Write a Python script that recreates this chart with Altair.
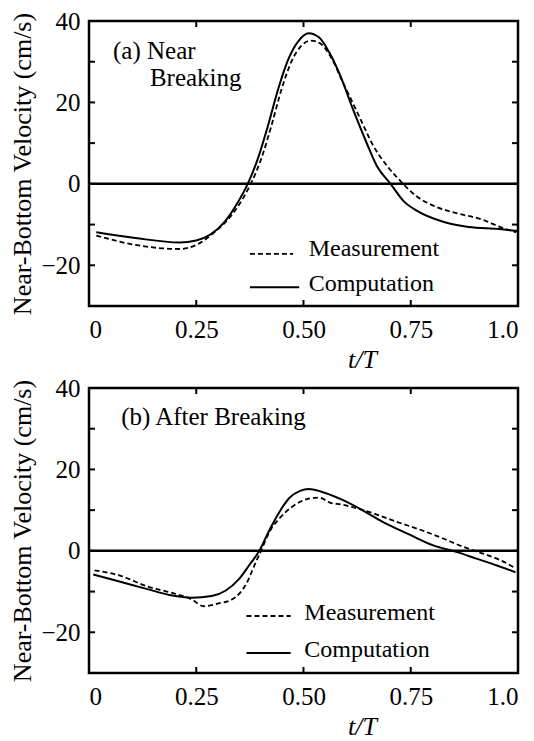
import altair as alt
import pandas as pd

# ---------------- data ----------------
# (a) Near Breaking
a_comp_t = [0.017, 0.108, 0.211, 0.25, 0.282, 0.314, 0.346, 0.370, 0.393, 0.417, 0.441, 0.465,
            0.489, 0.512, 0.536, 0.560, 0.584, 0.615, 0.647, 0.671, 0.703, 0.734, 0.766, 0.822,
            0.885, 0.956, 1.0]
a_comp_v = [-11.9, -13.3, -14.4, -13.9, -12.5, -9.6, -4.7, 0.0, 6.0, 14.2, 23.3, 30.7,
            35.2, 37.0, 36.0, 32.3, 27.0, 18.4, 10.1, 4.4, 0.0, -4.3, -6.7, -9.2,
            -10.6, -11.1, -11.6]
a_meas_t = [0.017, 0.108, 0.211, 0.25, 0.29, 0.33, 0.362, 0.377, 0.401, 0.425, 0.449, 0.473,
            0.496, 0.516, 0.540, 0.564, 0.592, 0.631, 0.663, 0.695, 0.726, 0.758, 0.806,
            0.861, 0.917, 0.956, 0.996]
a_meas_v = [-12.7, -15.0, -16.0, -15.0, -12.1, -8.0, -3.0, 0.0, 6.0, 14.2, 23.3, 30.3,
            34.0, 35.2, 34.4, 31.1, 24.9, 16.3, 9.3, 4.4, 0.7, -2.6, -5.5,
            -7.3, -8.8, -10.5, -11.9]

# (b) After Breaking
b_comp_t = [0.01, 0.073, 0.136, 0.191, 0.239, 0.286, 0.318, 0.350, 0.373, 0.397, 0.421, 0.445,
            0.468, 0.492, 0.512, 0.54, 0.587, 0.634, 0.690, 0.745, 0.801, 0.856, 0.903,
            0.951, 0.994]
b_comp_v = [-5.8, -7.6, -9.4, -10.9, -11.5, -11.1, -9.8, -6.9, -3.6, 0.0, 5.2, 9.75,
            13.1, 14.75, 15.2, 14.6, 12.7, 10.2, 6.8, 4.1, 1.4, -0.25, -1.9,
            -3.6, -5.25]
b_meas_t = [0.013, 0.073, 0.136, 0.191, 0.239, 0.267, 0.302, 0.334, 0.366, 0.389, 0.401, 0.421,
            0.445, 0.476, 0.508, 0.536, 0.563, 0.587, 0.619, 0.666, 0.714, 0.777, 0.824,
            0.872, 0.919, 0.959, 0.994]
b_meas_v = [-4.8, -6.1, -8.75, -10.25, -11.9, -13.6, -12.9, -11.9, -8.2, -2.75, 0.0, 4.75,
            8.1, 11.0, 12.7, 13.1, 11.8, 11.4, 10.6, 9.1, 7.25, 5.0, 3.1,
            1.0, -0.7, -2.3, -4.25]

x_label_values = [0, 0.25, 0.5, 0.75, 1.0]
y_label_values = [-20, 0, 20, 40]
x_tick_marks = [0.25, 0.5, 0.75]
y_tick_marks = [-20, -10, 0, 10, 20, 30]

legend_names = ["Measurement", "Computation"]
a_panel_label = ["(a) Near", "Breaking"]
b_panel_label = ["(b) After Breaking"]

# ---------------- layout / style ----------------
FONT = "Liberation Serif"
W, H = 429, 285
XDOM = [0, 1]
YDOM = [-30, 40]
TICK_PX = 6
tx = TICK_PX / W * (XDOM[1] - XDOM[0])
ty = TICK_PX / H * (YDOM[1] - YDOM[0])


def X(field):
    return alt.X(field, type="quantitative",
                 scale=alt.Scale(domain=XDOM, nice=False, zero=False),
                 axis=alt.Axis(values=x_label_values,
                               labelExpr="datum.value == 0 ? '0' : (datum.value == 1 ? '1.0' : format(datum.value, '.2f'))",
                               labelFont=FONT, labelFontSize=25, labelColor="black", labelPadding=11,
                               title="t/T", titleFont=FONT, titleFontSize=26, titleFontStyle="italic",
                               titleFontWeight="normal", titleColor="black",
                               titleX=273, titleY=53, titleAlign="center",
                               titleBaseline="middle"))


def Y(field):
    return alt.Y(field, type="quantitative",
                 scale=alt.Scale(domain=YDOM, nice=False, zero=False),
                 axis=alt.Axis(values=y_label_values, labelFont=FONT, labelFontSize=25,
                               labelColor="black", labelPadding=9,
                               title="Near-Bottom Velocity (cm/s)", titleFont=FONT, titleFontSize=26,
                               titleFontWeight="normal", titleColor="black", titlePadding=5))


def panel(ct, cv, mt, mv, labels, label_pos, leg):
    comp = pd.DataFrame({"t": ct, "v": cv})
    meas = pd.DataFrame({"t": mt, "v": mv})

    zero = alt.Chart(pd.DataFrame({"v": [0]})).mark_rule(color="black", strokeWidth=2.5).encode(y=Y("v"))

    ticks_df = pd.concat([
        pd.DataFrame({"x": XDOM[0], "x2": XDOM[0] + tx, "y": y_tick_marks, "y2": y_tick_marks}),
        pd.DataFrame({"x": XDOM[1] - tx, "x2": XDOM[1], "y": y_tick_marks, "y2": y_tick_marks}),
        pd.DataFrame({"x": x_tick_marks, "x2": x_tick_marks, "y": YDOM[0], "y2": YDOM[0] + ty}),
        pd.DataFrame({"x": x_tick_marks, "x2": x_tick_marks, "y": YDOM[1] - ty, "y2": YDOM[1]}),
    ])
    ticks = alt.Chart(ticks_df).mark_rule(color="black", strokeWidth=2).encode(
        x=X("x"), x2="x2", y=Y("y"), y2="y2")

    meas_line = alt.Chart(meas).mark_line(color="black", strokeWidth=1.8, strokeDash=[5, 3],
                                          interpolate="monotone").encode(x=X("t"), y=Y("v"))
    comp_line = alt.Chart(comp).mark_line(color="black", strokeWidth=2,
                                          interpolate="monotone").encode(x=X("t"), y=Y("v"))

    lab_df = pd.DataFrame({"x": [p[0] for p in label_pos], "y": [p[1] for p in label_pos], "s": labels})
    lab = alt.Chart(lab_df).mark_text(font=FONT, fontSize=25, align="left", baseline="middle",
                                      color="black").encode(x=X("x"), y=Y("y"), text="s:N")

    (lx1, lx2m, lx2c, ly_m, ly_c, tx_m, tx_c, tyy_m, tyy_c) = leg
    leg_m = alt.Chart(pd.DataFrame({"x": [lx1], "x2": [lx2m], "y": [ly_m]})).mark_rule(
        color="black", strokeWidth=1.8, strokeDash=[5, 3]).encode(x=X("x"), x2="x2", y=Y("y"))
    leg_c = alt.Chart(pd.DataFrame({"x": [lx1], "x2": [lx2c], "y": [ly_c]})).mark_rule(
        color="black", strokeWidth=2).encode(x=X("x"), x2="x2", y=Y("y"))
    leg_t = alt.Chart(pd.DataFrame({"x": [tx_m, tx_c], "y": [tyy_m, tyy_c], "s": legend_names})).mark_text(
        font=FONT, fontSize=24, align="left", baseline="middle", color="black").encode(
        x=X("x"), y=Y("y"), text="s:N")

    return alt.layer(zero, ticks, meas_line, comp_line, lab, leg_m, leg_c, leg_t).properties(width=W, height=H)


top = panel(a_comp_t, a_comp_v, a_meas_t, a_meas_v, a_panel_label,
            [(0.056, 32.6), (0.142, 26.0)],
            (0.375, 0.476, 0.49, -17.2, -25.4, 0.512, 0.512, -16.0, -24.7))
bottom = panel(b_comp_t, b_comp_v, b_meas_t, b_meas_v, b_panel_label,
               [(0.075, 32.9)],
               (0.367, 0.470, 0.47, -16.0, -25.1, 0.502, 0.502, -15.2, -24.4))

chart = alt.vconcat(top, bottom, spacing=0).properties(
    padding={"left": 0, "top": -1, "right": 0, "bottom": 0}
).configure(font=FONT).configure_view(stroke="black", strokeWidth=2.5).configure_axis(
    domain=False, ticks=False, tickSize=0, grid=False,
    labelFont=FONT, labelFontSize=25, labelColor="black",
    titleFont=FONT, titleFontSize=26, titleFontWeight="normal", titleColor="black"
)

chart.save("out.html", embed_options={"renderer": "svg", "actions": False})
